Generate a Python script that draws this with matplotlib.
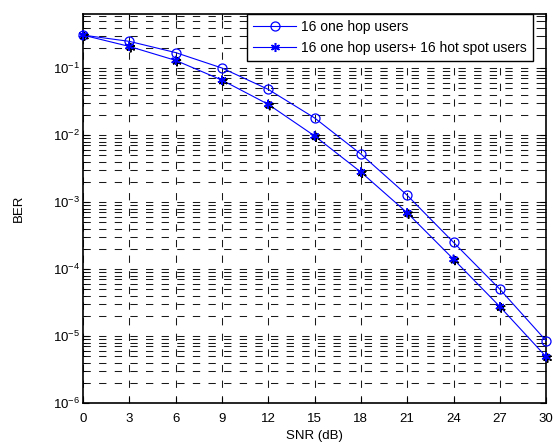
import numpy as np
import matplotlib.pyplot as plt
import matplotlib.patheffects as pe
from matplotlib.ticker import LogLocator, NullFormatter

plt.rcParams['font.family'] = ['Liberation Sans', 'DejaVu Sans']

snr = [0, 3, 6, 9, 12, 15, 18, 21, 24, 27, 30]
ber_one_hop = [0.31, 0.25, 0.17, 0.10, 0.048, 0.018, 0.0052, 0.00126, 2.5e-4, 5.0e-5, 8.5e-6]
ber_hot_spot = [0.31, 0.21, 0.13, 0.066, 0.0287, 0.0097, 0.0028, 6.9e-4, 1.4e-4, 2.75e-5, 4.9e-6]
xticks = [0, 3, 6, 9, 12, 15, 18, 21, 24, 27, 30]

fig = plt.figure(figsize=(5.54, 4.46), dpi=100)
ax = fig.add_axes([0.1498, 0.0964, 0.836, 0.8722])

star = (6, 2, 0)
ax.semilogy(snr, ber_one_hop, color='blue', lw=0.8, marker='o', ms=6.5,
            mfc='none', mec='blue', mew=0.9, clip_on=False, zorder=3,
            label='16 one hop users')
ax.semilogy(snr, ber_hot_spot, color='blue', lw=0.8, zorder=3, label='_nolegend_')
ax.semilogy(snr, ber_hot_spot, ls='none', marker=star, ms=6.5, mec='blue', mew=1.1,
            clip_on=False, zorder=4,
            path_effects=[pe.SimpleLineShadow(offset=(1, -1), shadow_color='black', alpha=1),
                          pe.Normal()])
# legend proxy for the second series
ax.plot([], [], color='blue', lw=0.8, marker=star, ms=6.5, mec='blue', mew=1.1,
        label='16 one hop users+ 16 hot spot users')

ax.set_xlim(0, 30)
ax.set_ylim(1e-6, 0.64)
ax.set_xticks(xticks)
ax.yaxis.set_major_locator(LogLocator(base=10, numticks=10))
ax.yaxis.set_minor_locator(LogLocator(base=10, subs=np.arange(2, 10), numticks=20))
ax.yaxis.set_minor_formatter(NullFormatter())

dash = (0, (7, 8))
ax.grid(True, which='major', axis='both', color='#1a1a1a', ls=dash, lw=0.75)
ax.grid(True, which='minor', axis='y', color='#1a1a1a', ls=dash, lw=0.75)
ax.tick_params(which='both', direction='in', top=True, right=True, labelsize=9.5)
ax.tick_params(axis='x', which='major', length=4, pad=7)
ax.tick_params(axis='y', which='major', length=4, pad=2)
ax.tick_params(which='minor', length=2)
for s in ax.spines.values():
    s.set_linewidth(1.2)

ax.set_xlabel('SNR (dB)', fontsize=9.5, labelpad=4)
ax.set_ylabel('BER', fontsize=9.5, labelpad=20)

handles, labels = ax.get_legend_handles_labels()
leg = ax.legend(handles, labels, loc='upper right', bbox_to_anchor=(0.972, 1.0),
                fontsize=10, fancybox=False, framealpha=1, edgecolor='black',
                borderaxespad=0, handlelength=3.1, handletextpad=0.35,
                borderpad=0.45, labelspacing=0.45)
leg.get_frame().set_linewidth(1.0)

fig.savefig('out.png', dpi=100)
